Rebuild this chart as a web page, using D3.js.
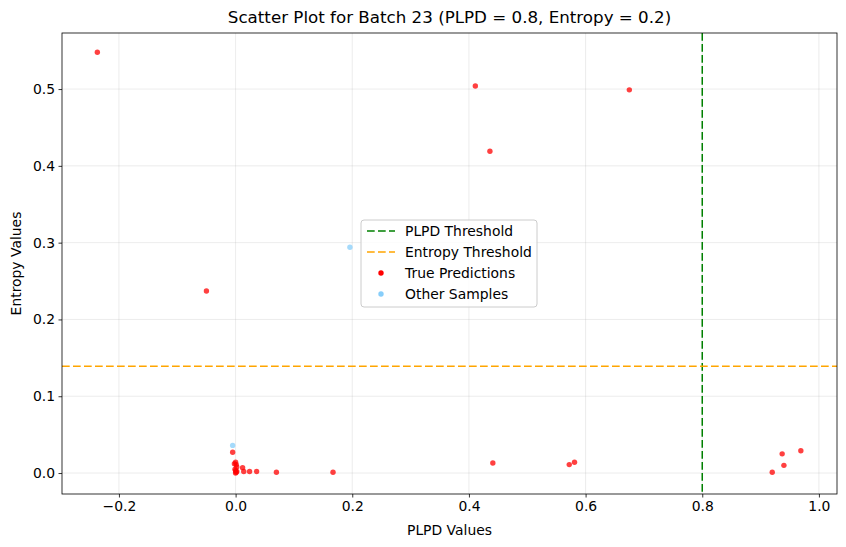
<!DOCTYPE html>
<html><head><meta charset="utf-8">
<script src="https://cdn.jsdelivr.net/npm/d3@7"></script>
<style>body{margin:0;background:#fff;font-family:"DejaVu Sans",sans-serif;}</style>
</head><body><div id="c"></div>
<script>
const truePLPD = [-0.237, -0.05, 0.411, 0.436, 0.675, -0.005,
  0.0, 0.001, 0.002, -0.001, 0.0, 0.001, 0.0, -0.002, 0.002,
  0.012, 0.014, 0.024, 0.036, 0.070, 0.167,
  0.441, 0.572, 0.581, 0.937, 0.969, 0.940, 0.920];
const trueEntropy = [0.548, 0.237, 0.504, 0.419, 0.499, 0.027,
  0.014, 0.011, 0.008, 0.005, 0.003, 0.001, 0.0, 0.012, 0.002,
  0.007, 0.002, 0.002, 0.002, 0.001, 0.001,
  0.013, 0.011, 0.014, 0.025, 0.029, 0.010, 0.001];
const otherPLPD = [0.196, -0.005];
const otherEntropy = [0.294, 0.036];
const plpdThreshold = 0.8;
const entropyThreshold = 0.139;
const xTicks = [-0.2, 0.0, 0.2, 0.4, 0.6, 0.8, 1.0];
const yTicks = [0.0, 0.1, 0.2, 0.3, 0.4, 0.5];

const W = 846, H = 547;
const m = {l: 62, r: 9, t: 33, b: 53};
const dash = "7.7,3.3";
const svg = d3.select("#c").append("svg").attr("width", W).attr("height", H);
const x = d3.scaleLinear().domain([-0.2976, 1.031]).range([m.l, W - m.r]);
const y = d3.scaleLinear().domain([-0.0273, 0.573]).range([H - m.b, m.t]);

// grid
const g = svg.append("g");
g.selectAll(".gx").data(xTicks).join("line")
  .attr("x1", d => x(d)).attr("x2", d => x(d)).attr("y1", m.t).attr("y2", H - m.b)
  .attr("stroke", "#b0b0b0").attr("stroke-opacity", 0.3).attr("stroke-width", 0.8);
g.selectAll(".gy").data(yTicks).join("line")
  .attr("y1", d => y(d)).attr("y2", d => y(d)).attr("x1", m.l).attr("x2", W - m.r)
  .attr("stroke", "#b0b0b0").attr("stroke-opacity", 0.3).attr("stroke-width", 0.8);

// threshold lines
svg.append("line").attr("x1", x(plpdThreshold)).attr("x2", x(plpdThreshold))
  .attr("y1", m.t).attr("y2", H - m.b).attr("stroke", "green").attr("stroke-width", 1.5)
  .attr("stroke-dasharray", dash);
svg.append("line").attr("y1", y(entropyThreshold)).attr("y2", y(entropyThreshold))
  .attr("x1", m.l).attr("x2", W - m.r).attr("stroke", "orange").attr("stroke-width", 1.5)
  .attr("stroke-dasharray", dash);

// points
svg.append("g").selectAll("circle").data(truePLPD.map((v, i) => [v, trueEntropy[i]])).join("circle")
  .attr("cx", d => x(d[0])).attr("cy", d => y(d[1])).attr("r", 2.7)
  .attr("fill", "red").attr("fill-opacity", 0.75);
svg.append("g").selectAll("circle").data(otherPLPD.map((v, i) => [v, otherEntropy[i]])).join("circle")
  .attr("cx", d => x(d[0])).attr("cy", d => y(d[1])).attr("r", 2.7)
  .attr("fill", "lightskyblue").attr("fill-opacity", 0.75);

// axes
const xa = svg.append("g").attr("transform", `translate(0,${H - m.b})`)
  .call(d3.axisBottom(x).tickValues(xTicks).tickFormat(d3.format(".1f")).tickSize(3.5).tickPadding(3.5));
const ya = svg.append("g").attr("transform", `translate(${m.l},0)`)
  .call(d3.axisLeft(y).tickValues(yTicks).tickFormat(d3.format(".1f")).tickSize(3.5).tickPadding(3.5));
[xa, ya].forEach(a => {
  a.selectAll("text").attr("font-family", "DejaVu Sans").attr("font-size", 13.9).attr("fill", "#000");
  a.selectAll("line").attr("stroke", "#000").attr("stroke-width", 0.8);
  a.select(".domain").remove();
});
xa.selectAll("text").text(d => d3.format(".1f")(d).replace("-", "\u2212"));
svg.append("rect").attr("x", m.l).attr("y", m.t).attr("width", W - m.r - m.l).attr("height", H - m.b - m.t)
  .attr("fill", "none").attr("stroke", "#000").attr("stroke-width", 0.8);

// labels
svg.append("text").attr("x", (m.l + W - m.r) / 2).attr("y", 23).attr("text-anchor", "middle")
  .attr("font-size", 16.7).text("Scatter Plot for Batch 23 (PLPD = 0.8, Entropy = 0.2)");
svg.append("text").attr("x", (m.l + W - m.r) / 2).attr("y", 535).attr("text-anchor", "middle")
  .attr("font-size", 13.9).text("PLPD Values");
svg.append("text").attr("transform", `translate(21,${(m.t + H - m.b) / 2}) rotate(-90)`)
  .attr("text-anchor", "middle").attr("font-size", 13.9).text("Entropy Values");

// legend
const lg = svg.append("g").attr("transform", "translate(361,220)");
lg.append("rect").attr("width", 176).attr("height", 87).attr("rx", 3)
  .attr("fill", "#fff").attr("fill-opacity", 0.8).attr("stroke", "#ccc");
const items = [
  {t: "PLPD Threshold", type: "line", c: "green"},
  {t: "Entropy Threshold", type: "line", c: "orange"},
  {t: "True Predictions", type: "dot", c: "red"},
  {t: "Other Samples", type: "dot", c: "lightskyblue"}
];
items.forEach((it, i) => {
  const yy = 11 + i * 21;
  if (it.type === "line") {
    lg.append("line").attr("x1", 6).attr("x2", 34).attr("y1", yy).attr("y2", yy)
      .attr("stroke", it.c).attr("stroke-width", 1.5).attr("stroke-dasharray", dash);
  } else {
    lg.append("circle").attr("cx", 20).attr("cy", yy).attr("r", 2.7).attr("fill", it.c);
  }
  lg.append("text").attr("x", 44).attr("y", yy + 5).attr("font-size", 13.9).text(it.t);
});
</script></body></html>
